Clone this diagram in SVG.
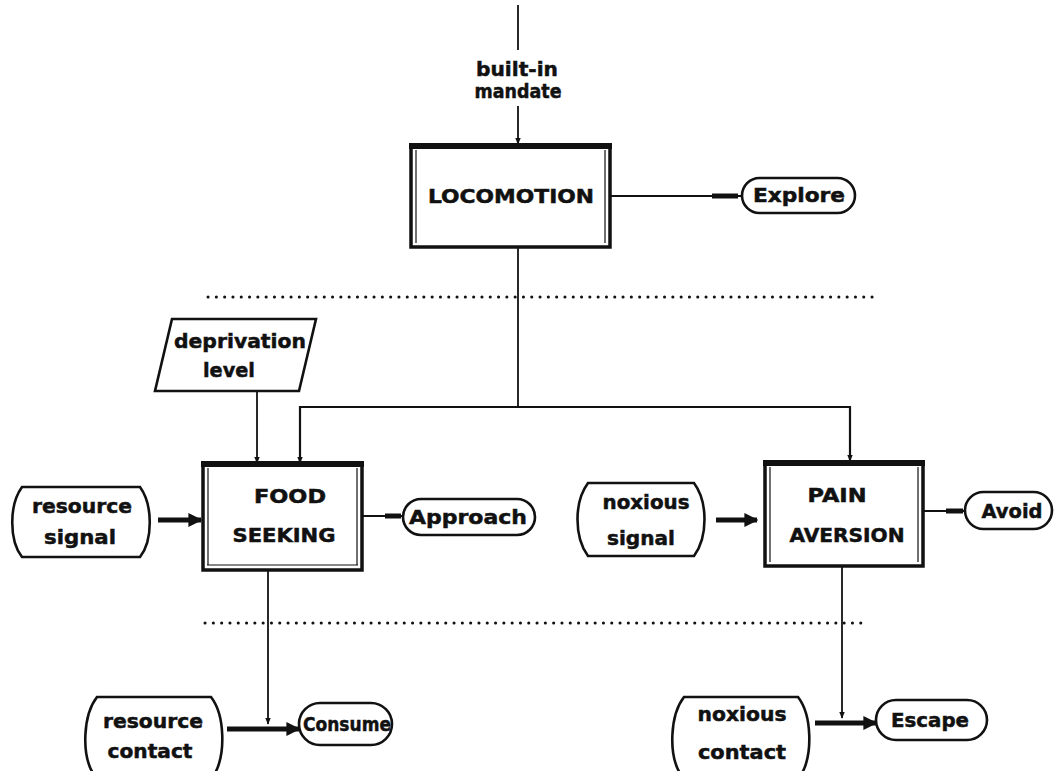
<svg xmlns="http://www.w3.org/2000/svg" width="1056" height="771" viewBox="0 0 1056 771">
  <style>
    .lbl { font-family: "DejaVu Sans", "Liberation Sans", sans-serif; font-weight: bold; font-size: 20px; fill: #111; stroke: #111; stroke-width: 0.5; text-anchor: middle; }
    .cap { font-size: 19px; }
    .box { fill: #fff; stroke: #111; stroke-width: 3.5; }
    .boxtop { stroke: #111; stroke-width: 6; }
    .inner { fill: none; stroke: #111; stroke-width: 1.2; }
    .pill { fill: #fff; stroke: #111; stroke-width: 2.6; }
    .shape { fill: #fff; stroke: #111; stroke-width: 2.6; }
    .thin { fill: none; stroke: #111; stroke-width: 1.8; }
    .link { fill: none; stroke: #111; stroke-width: 2.2; }
    .thick { fill: none; stroke: #111; stroke-width: 5; }
    .dots { fill: none; stroke: #111; stroke-width: 3; stroke-linecap: round; stroke-dasharray: 0.1 8.2; }
  </style>
  <defs>
    <marker id="ah" viewBox="0 0 10 10" refX="9" refY="5" markerWidth="7" markerHeight="12" markerUnits="userSpaceOnUse" orient="auto">
      <path d="M0,1 L10,5 L0,9 Z" fill="#111"/>
    </marker>
    <marker id="ahBig" viewBox="0 0 10 10" refX="9" refY="5" markerWidth="14" markerHeight="14" markerUnits="userSpaceOnUse" orient="auto">
      <path d="M0,0 L10,5 L0,10 Z" fill="#111"/>
    </marker>
  </defs>

  <!-- level separators -->
  <g id="separators">
    <line class="dots" x1="208" y1="297" x2="878" y2="297"/>
    <line class="dots" x1="205" y1="623" x2="868" y2="623"/>
  </g>

  <!-- connectors -->
  <g id="connectors">
    <line class="thin" x1="518" y1="5" x2="518" y2="50"/>
    <line class="thin" x1="518" y1="106" x2="518" y2="144" marker-end="url(#ah)"/>
    <line class="link" x1="610" y1="196" x2="742" y2="196"/>
    <line class="thick" x1="712" y1="196" x2="738" y2="196" stroke-width="3.5"/>
    <polyline class="thin" points="518,247 518,407"/>
    <polyline class="link" points="300,463 300,407 850,407 850,461"/>
    <line class="thin" x1="300" y1="440" x2="300" y2="463" marker-end="url(#ah)"/>
    <line class="thin" x1="850" y1="440" x2="850" y2="461" marker-end="url(#ah)"/>
    <line class="thin" x1="257" y1="391" x2="257" y2="463" marker-end="url(#ah)"/>
    <line class="link" x1="362" y1="516" x2="403" y2="516"/>
    <line class="thick" x1="385" y1="516" x2="401" y2="516" stroke-width="3.5"/>
    <line class="link" x1="923" y1="511" x2="965" y2="511"/>
    <line class="thick" x1="946" y1="511" x2="963" y2="511" stroke-width="3.5"/>
    <line class="thick" x1="158" y1="520" x2="201" y2="520" marker-end="url(#ahBig)"/>
    <line class="thick" x1="716" y1="520" x2="757" y2="520" marker-end="url(#ahBig)"/>
    <line class="thin" x1="268" y1="570" x2="268" y2="724" marker-end="url(#ah)"/>
    <line class="thin" x1="842" y1="566" x2="842" y2="718" marker-end="url(#ah)"/>
    <line class="thick" x1="227" y1="729" x2="299" y2="729" marker-end="url(#ahBig)"/>
    <line class="thick" x1="815" y1="723" x2="876" y2="723" marker-end="url(#ahBig)"/>
  </g>

  <!-- mandate label -->
  <g id="mandate">
    <text class="lbl" x="517" y="76" textLength="82" lengthAdjust="spacingAndGlyphs">built-in</text>
    <text class="lbl" x="518" y="98" textLength="87" lengthAdjust="spacingAndGlyphs">mandate</text>
  </g>

  <g id="locomotion">
    <rect class="box" x="411" y="145" width="199" height="102"/>
    <line class="boxtop" x1="409" y1="146" x2="612" y2="146"/>
    <line class="inner" x1="416" y1="150" x2="416" y2="243"/>
    <line class="inner" x1="605" y1="150" x2="605" y2="243"/>
    <text class="lbl cap" x="511" y="203" textLength="166" lengthAdjust="spacingAndGlyphs">LOCOMOTION</text>
  </g>

  <g id="explore">
    <rect class="pill" x="742" y="178" width="113" height="35" rx="17.5"/>
    <text class="lbl" x="799" y="202" textLength="92" lengthAdjust="spacingAndGlyphs">Explore</text>
  </g>

  <g id="deprivation">
    <polygon class="shape" points="172,319 316,319 299,391 155,391"/>
    <text class="lbl" x="240" y="348" textLength="132" lengthAdjust="spacingAndGlyphs">deprivation</text>
    <text class="lbl" x="229" y="377" textLength="52" lengthAdjust="spacingAndGlyphs">level</text>
  </g>

  <g id="food-seeking">
    <rect class="box" x="203" y="463" width="159" height="107"/>
    <line class="boxtop" x1="201" y1="464" x2="364" y2="464"/>
    <line class="inner" x1="208" y1="468" x2="208" y2="565"/>
    <line class="inner" x1="357" y1="468" x2="357" y2="565"/>
    <line class="inner" x1="207" y1="565" x2="358" y2="565"/>
    <text class="lbl cap" x="290" y="503" textLength="72" lengthAdjust="spacingAndGlyphs">FOOD</text>
    <text class="lbl cap" x="284" y="542" textLength="103" lengthAdjust="spacingAndGlyphs">SEEKING</text>
  </g>

  <g id="resource-signal">
    <path class="shape" d="M22,487 H140 C153,505 153,540 140,557 H22 C9,540 9,505 22,487 Z"/>
    <text class="lbl" x="82" y="513" textLength="100" lengthAdjust="spacingAndGlyphs">resource</text>
    <text class="lbl" x="80" y="544" textLength="72" lengthAdjust="spacingAndGlyphs">signal</text>
  </g>

  <g id="approach">
    <rect class="pill" x="403" y="499" width="132" height="36" rx="18"/>
    <text class="lbl" x="468" y="524" textLength="118" lengthAdjust="spacingAndGlyphs">Approach</text>
  </g>

  <g id="noxious-signal">
    <path class="shape" d="M588,483 H694 C708,502 708,537 694,556 H588 C574,537 574,502 588,483 Z"/>
    <text class="lbl" x="646" y="509" textLength="87" lengthAdjust="spacingAndGlyphs">noxious</text>
    <text class="lbl" x="641" y="545" textLength="68" lengthAdjust="spacingAndGlyphs">signal</text>
  </g>

  <g id="pain-aversion">
    <rect class="box" x="765" y="462" width="158" height="104"/>
    <line class="boxtop" x1="763" y1="463" x2="925" y2="463"/>
    <line class="inner" x1="770" y1="467" x2="770" y2="562"/>
    <line class="inner" x1="918" y1="467" x2="918" y2="562"/>
    <text class="lbl cap" x="837" y="502" textLength="59" lengthAdjust="spacingAndGlyphs">PAIN</text>
    <text class="lbl cap" x="847" y="542" textLength="115" lengthAdjust="spacingAndGlyphs">AVERSION</text>
  </g>

  <g id="avoid">
    <rect class="pill" x="965" y="492" width="87" height="37" rx="18.5"/>
    <text class="lbl" x="1012" y="518" textLength="61" lengthAdjust="spacingAndGlyphs">Avoid</text>
  </g>

  <g id="resource-contact">
    <path class="shape" d="M97,697 H211 C225,715 226,755 214,775 H94 C81,755 83,715 97,697 Z"/>
    <text class="lbl" x="153" y="728" textLength="100" lengthAdjust="spacingAndGlyphs">resource</text>
    <text class="lbl" x="150" y="758" textLength="85" lengthAdjust="spacingAndGlyphs">contact</text>
  </g>

  <g id="consume">
    <rect class="pill" x="299" y="703" width="93" height="42" rx="21"/>
    <text class="lbl" x="347" y="731" textLength="88" lengthAdjust="spacingAndGlyphs">Consume</text>
  </g>

  <g id="noxious-contact">
    <path class="shape" d="M684,697 H798 C812,715 813,755 801,775 H681 C668,755 670,715 684,697 Z"/>
    <text class="lbl" x="742" y="721" textLength="89" lengthAdjust="spacingAndGlyphs">noxious</text>
    <text class="lbl" x="742" y="759" textLength="88" lengthAdjust="spacingAndGlyphs">contact</text>
  </g>

  <g id="escape">
    <rect class="pill" x="876" y="700" width="111" height="40" rx="20"/>
    <text class="lbl" x="930" y="727" textLength="78" lengthAdjust="spacingAndGlyphs">Escape</text>
  </g>
</svg>
